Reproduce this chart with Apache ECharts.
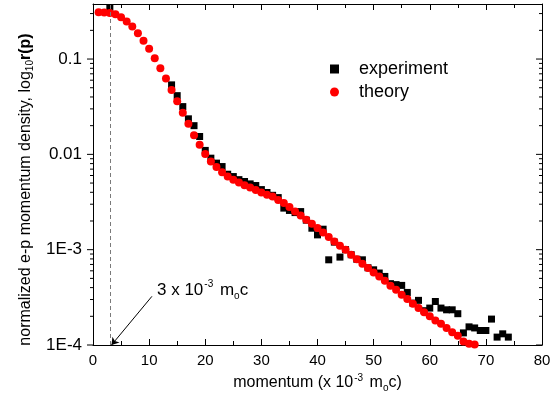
<!DOCTYPE html>
<html>
<head>
<meta charset="utf-8">
<script src="https://cdn.jsdelivr.net/npm/echarts@6/dist/echarts.min.js"></script>
<style>
  html, body { margin: 0; padding: 0; background: #fff; }
  #chart { width: 559px; height: 410px; }
</style>
</head>
<body>
<div id="chart"></div>
<script>
// ---- data ----
const theoryX = [1,2,3,4,5,6,7,8,9,10,11,12,13,14,15,16,17,18,19,20,21,22,23,24,25,26,27,28,29,30,31,32,33,34,35,36,37,38,39,40,41,42,43,44,45,46,47,48,49,50,51,52,53,54,55,56,57,58,59,60,61,62,63,64,65,66,67,68];
const theoryY = [0.309,0.308,0.305,0.295,0.275,0.248,0.219,0.186,0.156,0.128,0.102,0.0802,0.0624,0.0474,0.0361,0.0274,0.0209,0.0159,0.0126,0.0101,
  0.00841,0.00735,0.00650,0.00585,0.00541,0.00506,0.00475,0.00449,0.00422,0.00398,0.00376,0.00361,0.00333,0.00308,0.00280,0.00251,0.00229,
  0.00206,0.00187,0.00169,0.00151,0.00136,0.00122,0.00110,0.000998,0.000885,0.000796,0.000711,0.000641,0.000577,0.000524,0.000472,0.000419,
  0.000380,0.000337,0.000303,0.000271,0.000244,0.000220,0.000200,0.000181,0.000167,0.000151,0.000136,0.000125,0.000109,0.000103,0.000101];

const expX = [3,14,15,16,17,18,19,20,21,22,23,24,25,26,27,28,29,30,31,32,33,34,35,36,37,38,39,40,41,42,43,44,45,46,47,48,49,50,51,52,53,54,55,56,57,58,59,60,61,62,63,64,65,66,67,68,69,70,71,72,73,74];
const expY = [0.341,0.0536,0.0413,0.0317,0.0236,0.0200,0.0154,0.0110,0.00912,0.00809,0.00745,0.00619,0.00585,0.00543,0.00519,0.00490,0.00471,
  0.00427,0.00398,0.00372,0.00352,0.00273,0.00258,0.00245,0.00251,0.00204,0.00168,0.00143,0.00164,0.000783,0.00120,0.000836,0.00100,0.000885,
  0.000794,0.000783,0.000646,0.000615,0.000569,0.000524,0.000440,0.000430,0.000422,0.000356,0.000275,0.000294,0.000229,0.000244,0.000286,
  0.000244,0.000234,0.000234,0.000213,0.000134,0.000155,0.000151,0.000142,0.000142,0.000187,0.000121,0.000131,0.000121];

const yMajorTicks = [1e-4, 1e-3, 1e-2, 1e-1];
const yTickLabels = ['1E-4', '1E-3', '0.01', '0.1'];
const yMinorFactors = [2,3,4,5,6,7,8,9];
const yMin = 1e-4, yMax = 0.378;
const xMin = 0, xMax = 80, xStep = 10;
const cutoffX = 3;                       // dashed line position (x 10^-3 m0c)
const arrowFrom = [10.5, 0.000324];      // annotation arrow (data space)
const arrowTo = [3.3, 0.0001];

// ---- tick table for the log axes (drawn through the axis scale) ----
const yTickData = [];
yMajorTicks.forEach(d => {
  yTickData.push([0, d, 1]);
  yMinorFactors.forEach(f => { const v = d * f; if (v <= yMax) yTickData.push([0, v, 0]); });
});

const FONT = 'Liberation Sans, Arial, sans-serif';
const chart = echarts.init(document.getElementById('chart'), null, { renderer: 'canvas' });

chart.setOption({
  animation: false,
  backgroundColor: '#fff',
  textStyle: { fontFamily: FONT, color: '#000' },
  grid: { left: 93, right: 17, top: 4, bottom: 65, containLabel: false },
  legend: {
    orient: 'vertical', left: 330, top: 59, itemWidth: 9, itemHeight: 9, itemGap: 3,
    padding: 0, selectedMode: false,
    textStyle: { fontSize: 18, fontFamily: FONT, color: '#000', lineHeight: 20, padding: [0, 0, 0, 15] },
    data: [{ name: 'experiment', icon: 'rect' }, { name: 'theory', icon: 'circle' }]
  },
  xAxis: [{
    type: 'value', position: 'bottom', min: xMin, max: xMax, interval: xStep,
    axisLine: { show: true, onZero: false, lineStyle: { color: '#000', width: 1 } },
    axisTick: { show: true, inside: true, length: 6, lineStyle: { color: '#000' } },
    minorTick: { show: true, splitNumber: 2, length: 4, lineStyle: { color: '#000' } },
    splitLine: { show: false },
    axisLabel: { fontSize: 15, color: '#000', margin: 8, fontFamily: FONT },
    name: '{n|momentum (x 10}{sup|-3}{n| m}{sub|o}{n|c)}',
    nameLocation: 'middle', nameGap: 27,
    nameTextStyle: {
      rich: {
        n: { fontSize: 16, fontFamily: FONT, color: '#000', lineHeight: 20 },
        sup: { fontSize: 10, fontFamily: FONT, color: '#000', lineHeight: 20, verticalAlign: 'top', padding: [0, 2, 0, 1] },
        sub: { fontSize: 10, fontFamily: FONT, color: '#000', lineHeight: 20, verticalAlign: 'bottom', padding: [4, 0, 0, 0] }
      }
    }
  }, {
    type: 'value', position: 'top', min: xMin, max: xMax, interval: xStep,
    axisLine: { show: true, onZero: false, lineStyle: { color: '#000', width: 1 } },
    axisTick: { show: true, inside: true, length: 6, lineStyle: { color: '#000' } },
    minorTick: { show: true, splitNumber: 2, length: 4, lineStyle: { color: '#000' } },
    splitLine: { show: false },
    axisLabel: { show: false }
  }],
  yAxis: [{
    type: 'log', logBase: 10, position: 'left', min: yMin, max: yMax,
    axisLine: { show: true, onZero: false, lineStyle: { color: '#000', width: 1 } },
    axisTick: { show: false },
    splitLine: { show: false },
    axisLabel: {
      fontSize: 17, color: '#000', margin: 11, fontFamily: FONT, showMaxLabel: false,
      formatter: v => {
        const i = yMajorTicks.findIndex(t => Math.abs(Math.log10(t) - Math.log10(v)) < 1e-6);
        return i >= 0 ? yTickLabels[i] : '';
      }
    },
    name: '{n|normalized e-p momentum density, log}{sub|10}{b|r(p)}',
    nameLocation: 'middle', nameRotate: 90, nameGap: 57,
    nameTextStyle: {
      padding: [0, 30, 0, 0],
      rich: {
        n: { fontSize: 16, fontFamily: FONT, color: '#000', lineHeight: 20 },
        sub: { fontSize: 10, fontFamily: FONT, color: '#000', lineHeight: 20, verticalAlign: 'bottom' },
        b: { fontSize: 16, fontFamily: FONT, fontWeight: 'bold', color: '#000', lineHeight: 20 }
      }
    }
  }, {
    type: 'log', logBase: 10, position: 'right', min: yMin, max: yMax,
    axisLine: { show: true, onZero: false, lineStyle: { color: '#000', width: 1 } },
    axisTick: { show: false },
    splitLine: { show: false },
    axisLabel: { show: false }
  }],
  graphic: [{
    type: 'text', left: 157, top: 279, silent: true,
    style: {
      text: '{n|3 x 10}{sup|-3}{n| m}{sub|o}{n|c}',
      rich: {
        n: { fontSize: 17, fontFamily: FONT, fill: '#000', lineHeight: 22 },
        sup: { fontSize: 10, fontFamily: FONT, fill: '#000', lineHeight: 22, verticalAlign: 'top', padding: [0, 2, 0, 1] },
        sub: { fontSize: 10, fontFamily: FONT, fill: '#000', lineHeight: 22, verticalAlign: 'bottom', padding: [4, 0, 0, 0] }
      }
    }
  }],
  series: [{
    name: 'ticks', type: 'custom', xAxisIndex: 0, yAxisIndex: 0, silent: true, clip: false,
    data: yTickData,
    renderItem: (params, api) => {
      const y = api.coord([0, api.value(1)])[1];
      const cs = params.coordSys;
      const len = api.value(2) ? 6 : 3;
      const st = { stroke: '#000', lineWidth: 1 };
      return {
        type: 'group', children: [
          { type: 'line', shape: { x1: cs.x - len, y1: y, x2: cs.x, y2: y }, style: st },
          { type: 'line', shape: { x1: cs.x + cs.width - len, y1: y, x2: cs.x + cs.width, y2: y }, style: st }
        ]
      };
    }
  }, {
    name: 'experiment', type: 'scatter', symbol: 'rect', symbolSize: 7,
    itemStyle: { color: '#000', opacity: 1 },
    data: expX.map((x, i) => [x, expY[i]]),
    markLine: {
      silent: true, symbol: 'none', animation: false,
      label: { show: false },
      lineStyle: { type: [4, 3], color: '#7a7a7a', width: 1 },
      data: [{ xAxis: cutoffX }]
    }
  }, {
    name: 'theory', type: 'scatter', symbol: 'circle', symbolSize: 8,
    itemStyle: { color: '#f00', opacity: 1 },
    data: theoryX.map((x, i) => [x, theoryY[i]]),
    markLine: {
      silent: true, symbol: ['none', 'arrow'], symbolSize: 7, animation: false,
      label: { show: false },
      lineStyle: { type: 'solid', color: '#000', width: 1 },
      data: [[{ coord: arrowFrom }, { coord: arrowTo }]]
    }
  }]
});
</script>
</body>
</html>
